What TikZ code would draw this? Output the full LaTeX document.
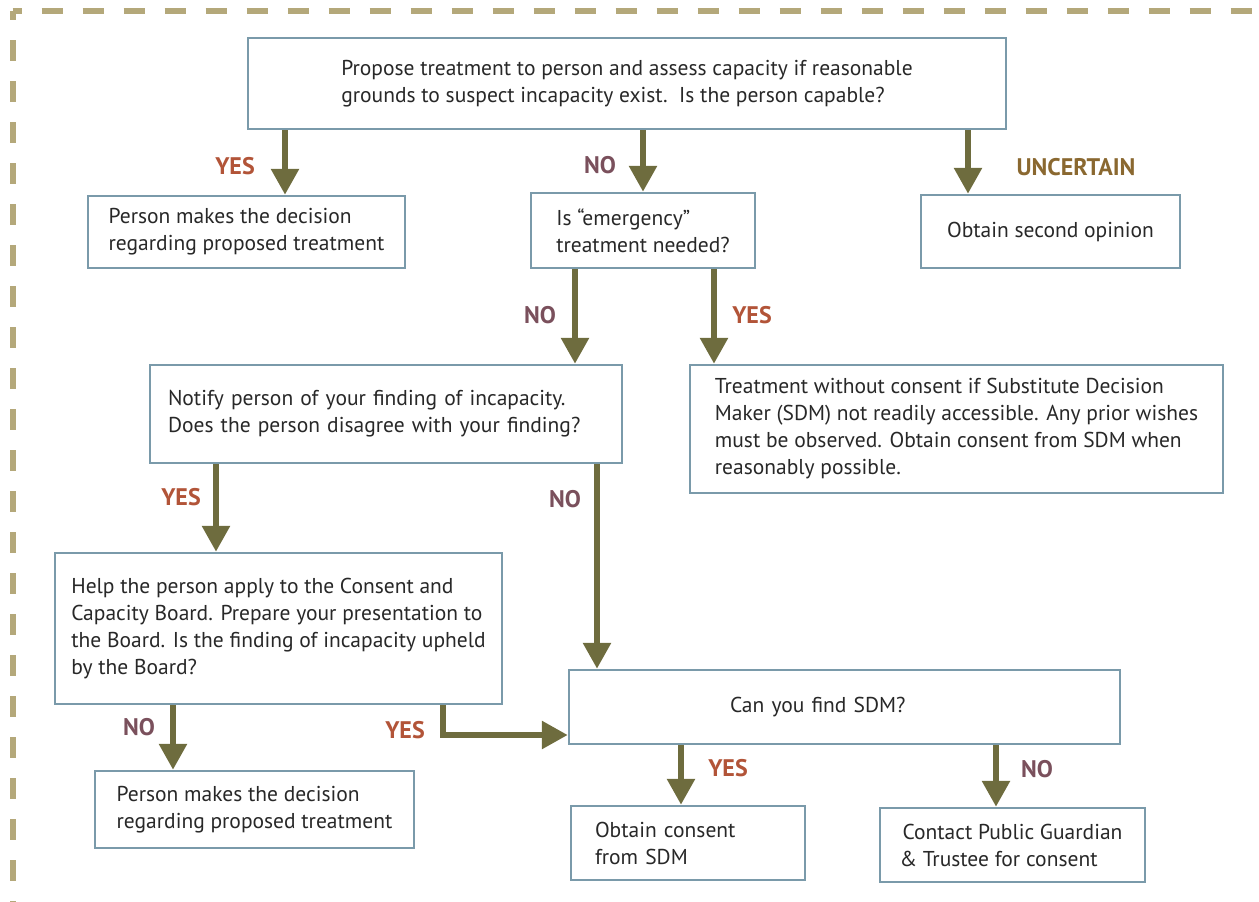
\documentclass[tikz,border=0pt]{standalone}
\usepackage{fontspec}
\setmainfont{PT Sans}
\usepackage{tikz}
\usetikzlibrary{arrows.meta,positioning}

\definecolor{frame}{RGB}{180,168,122}
\definecolor{boxline}{RGB}{122,154,170}
\definecolor{flow}{RGB}{110,108,62}
\definecolor{yescol}{RGB}{178,84,56}
\definecolor{nocol}{RGB}{122,80,92}
\definecolor{uncol}{RGB}{138,104,48}
\definecolor{txt}{RGB}{40,40,40}

\begin{document}
\begin{tikzpicture}[x=1pt, y=-1pt]
		\tikzstyle{Box}		= [draw=boxline, line width=2.5pt, fill=white, align=left, inner sep=0pt, text=txt, font=\fontsize{21.5}{27}\selectfont]
		\tikzstyle{Flow}	= [draw=flow, line width=6pt, -{Triangle[length=26pt, width=27pt]}]
		\tikzstyle{Lbl}		= [font=\fontsize{24}{28}\selectfont\bfseries, inner sep=0pt]
		\tikzstyle{Yes}		= [Lbl, text=yescol]
		\tikzstyle{No}		= [Lbl, text=nocol]
		\tikzstyle{Unsure}	= [Lbl, text=uncol]

		\useasboundingbox (0,0) rectangle (1259,902);

		% dashed frame, cut by the page edge
		\draw [frame, line width=6pt, dash pattern=on 21pt off 20pt, dash phase=12pt] (12.5,11) -- (1259,11);
		\draw [frame, line width=6pt, dash pattern=on 21pt off 20pt, dash phase=12pt] (12.5,11) -- (12.5,902);

		\node (top) at (627,83.5) [Box, minimum width=758pt, minimum height=91pt] {Propose treatment to person and assess capacity if reasonable\\grounds to suspect incapacity exist.\ \ Is the person capable?};
		\node (decA) at (246.5,232) [Box, minimum width=317pt, minimum height=72pt] {Person makes the decision\\regarding proposed treatment};
		\node (emerg) at (643,230.5) [Box, minimum width=224pt, minimum height=75pt] {Is ``emergency''\\treatment needed?};
		\node (second) at (1050.5,231.5) [Box, minimum width=259pt, minimum height=73pt] {Obtain second opinion};
		\node (notify) at (386,414) [Box, inner xsep=18pt, text width=436pt, minimum height=98pt] {Notify person of your finding of incapacity.\\Does the person disagree with your finding?};
		\node (treat) at (956.5,429) [Box, minimum width=533pt, minimum height=128pt] {Treatment without consent if Substitute Decision\\Maker (SDM) not readily accessible. Any prior wishes\\must be observed. Obtain consent from SDM when\\reasonably possible.};
		\node (help) at (278.5,628.5) [Box, minimum width=447pt, minimum height=151pt] {Help the person apply to the Consent and\\Capacity Board. Prepare your presentation to\\the Board. Is the finding of incapacity upheld\\by the Board?};
		\node (sdm) at (844.5,707) [Box, inner xsep=161pt, text width=229pt, minimum height=74pt] {Can you find SDM?};
		\node (decB) at (254.5,809.5) [Box, minimum width=319pt, minimum height=77pt] {Person makes the decision\\regarding proposed treatment};
		\node (obtain) at (688,843) [Box, inner xsep=24pt, text width=186pt, minimum height=74pt] {Obtain consent\\from SDM};
		\node (pgt) at (1012.5,845) [Box, minimum width=265pt, minimum height=74pt] {Contact Public Guardian\\\hspace{-3pt}\& Trustee for consent};

		\draw (285,0 |- top.south) to (285,0 |- decA.north) [Flow];
		\draw (643,0 |- top.south) to (643,0 |- emerg.north) [Flow];
		\draw (968,0 |- top.south) to (968,0 |- second.north) [Flow];
		\draw (575,0 |- emerg.south) to (575,0 |- notify.north) [Flow];
		\draw (714,0 |- emerg.south) to (714,0 |- treat.north) [Flow];
		\draw (216,0 |- notify.south) to (216,0 |- help.north) [Flow];
		\draw (597,0 |- notify.south) to (597,0 |- sdm.north) [Flow];
		\draw (173,0 |- help.south) to (173,0 |- decB.north) [Flow];
		\draw (443,0 |- help.south) |- (sdm.west |- 0,735) [Flow];
		\draw (681,0 |- sdm.south) to (681,0 |- obtain.north) [Flow];
		\draw (996,0 |- sdm.south) to (996,0 |- pgt.north) [Flow];

		\node (l1) at (235,166) [Yes] {YES};
		\node (l2) at (600,165) [No] {NO};
		\node (l3) at (1076,167) [Unsure] {UNCERTAIN};
		\node (l4) at (540,315) [No] {NO};
		\node (l5) at (752,315) [Yes] {YES};
		\node (l6) at (181,497) [Yes] {YES};
		\node (l7) at (565,499) [No] {NO};
		\node (l8) at (139,727) [No] {NO};
		\node (l9) at (405,730) [Yes] {YES};
		\node (l10) at (728,768) [Yes] {YES};
		\node (l11) at (1037,769) [No] {NO};
	\end{tikzpicture}
\end{document}
